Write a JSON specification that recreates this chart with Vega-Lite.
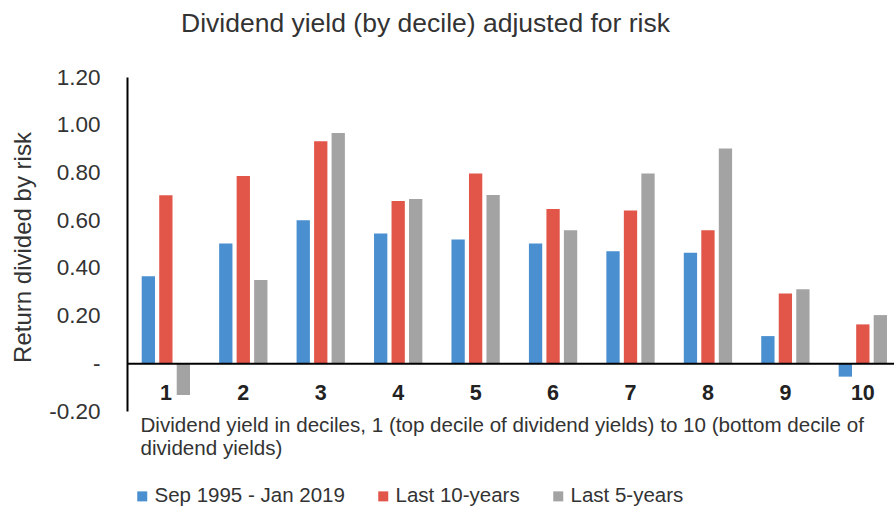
{
  "$schema": "https://vega.github.io/schema/vega-lite/v6.json",
  "width": 767,
  "height": 334,
  "autosize": {"type": "none"},
  "padding": {"left": 127, "top": 77, "right": 0, "bottom": 98},
  "background": "white",
  "config": {"view": {"stroke": null}, "font": "Liberation Sans"},
  "title": {"text": "Dividend yield (by decile) adjusted for risk", "fontSize": 26.5, "fontWeight": "normal", "color": "#333", "anchor": "middle", "frame": "group", "dx": -85, "offset": 29},
  "data": {"values": [
    {"decile": 1, "series": "Sep 1995 - Jan 2019", "value": 0.365},
    {"decile": 1, "series": "Last 10-years", "value": 0.704},
    {"decile": 1, "series": "Last 5-years", "value": -0.133},
    {"decile": 2, "series": "Sep 1995 - Jan 2019", "value": 0.502},
    {"decile": 2, "series": "Last 10-years", "value": 0.785},
    {"decile": 2, "series": "Last 5-years", "value": 0.349},
    {"decile": 3, "series": "Sep 1995 - Jan 2019", "value": 0.600},
    {"decile": 3, "series": "Last 10-years", "value": 0.931},
    {"decile": 3, "series": "Last 5-years", "value": 0.965},
    {"decile": 4, "series": "Sep 1995 - Jan 2019", "value": 0.544},
    {"decile": 4, "series": "Last 10-years", "value": 0.680},
    {"decile": 4, "series": "Last 5-years", "value": 0.689},
    {"decile": 5, "series": "Sep 1995 - Jan 2019", "value": 0.519},
    {"decile": 5, "series": "Last 10-years", "value": 0.795},
    {"decile": 5, "series": "Last 5-years", "value": 0.705},
    {"decile": 6, "series": "Sep 1995 - Jan 2019", "value": 0.502},
    {"decile": 6, "series": "Last 10-years", "value": 0.647},
    {"decile": 6, "series": "Last 5-years", "value": 0.558},
    {"decile": 7, "series": "Sep 1995 - Jan 2019", "value": 0.470},
    {"decile": 7, "series": "Last 10-years", "value": 0.640},
    {"decile": 7, "series": "Last 5-years", "value": 0.795},
    {"decile": 8, "series": "Sep 1995 - Jan 2019", "value": 0.463},
    {"decile": 8, "series": "Last 10-years", "value": 0.558},
    {"decile": 8, "series": "Last 5-years", "value": 0.900},
    {"decile": 9, "series": "Sep 1995 - Jan 2019", "value": 0.114},
    {"decile": 9, "series": "Last 10-years", "value": 0.293},
    {"decile": 9, "series": "Last 5-years", "value": 0.310},
    {"decile": 10, "series": "Sep 1995 - Jan 2019", "value": -0.056},
    {"decile": 10, "series": "Last 10-years", "value": 0.163},
    {"decile": 10, "series": "Last 5-years", "value": 0.202}
  ]},
  "mark": {"type": "bar"},
  "encoding": {
    "x": {
      "field": "decile", "type": "ordinal", "sort": "ascending",
      "scale": {"paddingInner": 0.3763, "paddingOuter": 0.1403, "align": 0.677},
      "axis": {
        "orient": "bottom", "offset": -47.7, "domainColor": "black", "domainWidth": 2,
        "ticks": false, "labelFontSize": 21.5, "labelFontWeight": "bold", "labelColor": "#222",
        "labelPadding": 19, "labelAngle": 0,
        "title": ["Dividend yield in deciles, 1 (top decile of dividend yields) to 10 (bottom decile of", "dividend yields)"],
        "titleFontSize": 20.6, "titleFontWeight": "normal", "titleColor": "#333",
        "titleAnchor": "start", "titleAlign": "left", "titleX": 13, "titleY": 52,
        "titleBaseline": "top", "titleLineHeight": 23, "zindex": 1
      }
    },
    "xOffset": {
      "field": "series", "type": "nominal",
      "sort": ["Sep 1995 - Jan 2019", "Last 10-years", "Last 5-years"],
      "scale": {"paddingInner": 0.24, "paddingOuter": 0}
    },
    "y": {
      "field": "value", "type": "quantitative",
      "scale": {"domain": [-0.2, 1.2], "nice": false, "zero": false},
      "axis": {
        "values": [-0.2, 0, 0.2, 0.4, 0.6, 0.8, 1, 1.2],
        "labelExpr": "abs(datum.value) < 0.001 ? '-\u00a0\u00a0' : (datum.value < 0 ? '-' + format(-datum.value, '.2f') : format(datum.value, '.2f'))",
        "ticks": false, "grid": false, "domainColor": "black", "domainWidth": 2,
        "labelFontSize": 22.5, "labelColor": "#333", "labelPadding": 27,
        "labelOverlap": false, "labelFlush": false, "labelBound": false,
        "title": "Return divided by risk", "titleFontSize": 24, "titleFontWeight": "normal",
        "titleColor": "#333", "titleX": -97, "titleY": 170, "titleAngle": -90,
        "titleAlign": "center", "titleBaseline": "alphabetic", "zindex": 1
      }
    },
    "color": {
      "field": "series", "type": "nominal",
      "scale": {"domain": ["Sep 1995 - Jan 2019", "Last 10-years", "Last 5-years"], "range": ["#4a8fd0", "#e2564a", "#a3a3a3"]},
      "legend": {
        "orient": "none", "legendX": 5, "legendY": 409, "direction": "horizontal", "title": null,
        "symbolType": "square", "symbolSize": 100, "symbolStrokeWidth": 0, "labelLimit": 400,
        "labelFontSize": 20.5, "labelColor": "#333", "columnPadding": 28, "labelOffset": 2
      }
    }
  }
}
